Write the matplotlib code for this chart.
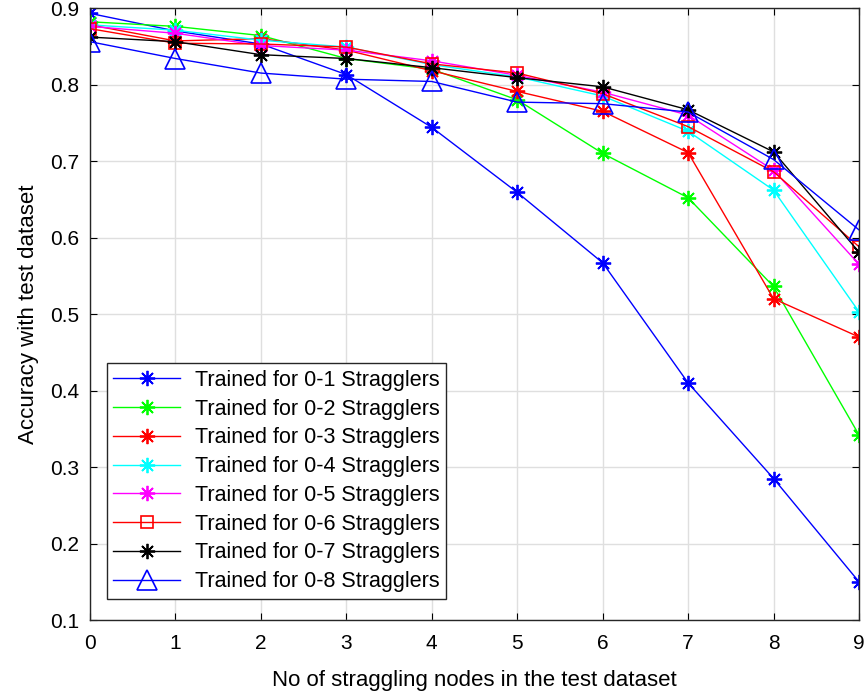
import numpy as np
import matplotlib.pyplot as plt

plt.rcParams['font.family'] = ['Liberation Sans', 'DejaVu Sans']

x = np.arange(10)

acc_01 = [0.893, 0.870, 0.853, 0.813, 0.744, 0.659, 0.567, 0.410, 0.285, 0.150]
acc_02 = [0.882, 0.876, 0.864, 0.834, 0.820, 0.780, 0.710, 0.652, 0.536, 0.342]
acc_03 = [0.878, 0.857, 0.860, 0.845, 0.818, 0.791, 0.765, 0.711, 0.520, 0.470]
acc_04 = [0.878, 0.871, 0.858, 0.849, 0.826, 0.810, 0.785, 0.739, 0.662, 0.503]
acc_05 = [0.876, 0.867, 0.851, 0.845, 0.831, 0.812, 0.790, 0.760, 0.688, 0.565]
acc_06 = [0.873, 0.854, 0.853, 0.849, 0.827, 0.815, 0.788, 0.745, 0.686, 0.588]
acc_07 = [0.862, 0.856, 0.839, 0.834, 0.822, 0.809, 0.797, 0.767, 0.712, 0.581]
acc_08 = [0.856, 0.834, 0.815, 0.807, 0.804, 0.777, 0.775, 0.764, 0.702, 0.610]

labels = ['Trained for 0-%d Stragglers' % k for k in range(1, 9)]

fig = plt.figure(figsize=(8.68, 6.98), dpi=100)
ax = fig.add_axes([0.1037, 0.1117, 0.8859, 0.8768])

# matlab style asterisk: plus and cross on top of each other
star = dict(marker=(8, 2, 0), markersize=11, markeredgewidth=1.3)
ax.plot(x, acc_01, color='#0000ff', lw=1, **star, label=labels[0])
ax.plot(x, acc_02, color='#00ff00', lw=1, **star, label=labels[1])
ax.plot(x, acc_03, color='#ff0000', lw=1, **star, label=labels[2])
ax.plot(x, acc_04, color='#00ffff', lw=1, **star, label=labels[3])
ax.plot(x, acc_05, color='#ff00ff', lw=1, **star, label=labels[4])
ax.plot(x, acc_06, color='#ff0000', lw=1, marker='s', markersize=9,
        markerfacecolor='none', markeredgewidth=1.2, label=labels[5])
ax.plot(x, acc_07, color='#000000', lw=1, **star, label=labels[6])
ax.plot(x, acc_08, color='#0000ff', lw=1, marker='^', markersize=14,
        markerfacecolor='none', markeredgewidth=1.2, label=labels[7])

ax.set_xlim(0, 9)
ax.set_ylim(0.1, 0.9)
ax.set_xticks(range(10))
ax.set_yticks(np.arange(0.1, 0.91, 0.1))
ax.set_yticklabels(['%.1f' % v for v in np.arange(0.1, 0.91, 0.1)])
ax.grid(True, color='#dfdfdf', lw=1)
ax.set_axisbelow(True)
ax.tick_params(direction='in', labelsize=15, length=5, top=True, right=True,
               labeltop=False, labelright=False)
ax.tick_params(axis='x', pad=10)
ax.tick_params(axis='y', pad=8)
for s in ax.spines.values():
    s.set_linewidth(1)
    s.set_color('#262626')

ax.set_xlabel('No of straggling nodes in the test dataset', fontsize=16, labelpad=12)
ax.set_ylabel('Accuracy with test dataset', fontsize=16, labelpad=8)

leg = ax.legend(loc='lower left', bbox_to_anchor=(0.022, 0.035), fontsize=15.5,
                fancybox=False, edgecolor='#262626', framealpha=1,
                handlelength=3.1, handletextpad=0.7, labelspacing=0.36,
                borderpad=0.3, borderaxespad=0)
leg.get_frame().set_linewidth(1)

fig.savefig('out.png', dpi=100)
